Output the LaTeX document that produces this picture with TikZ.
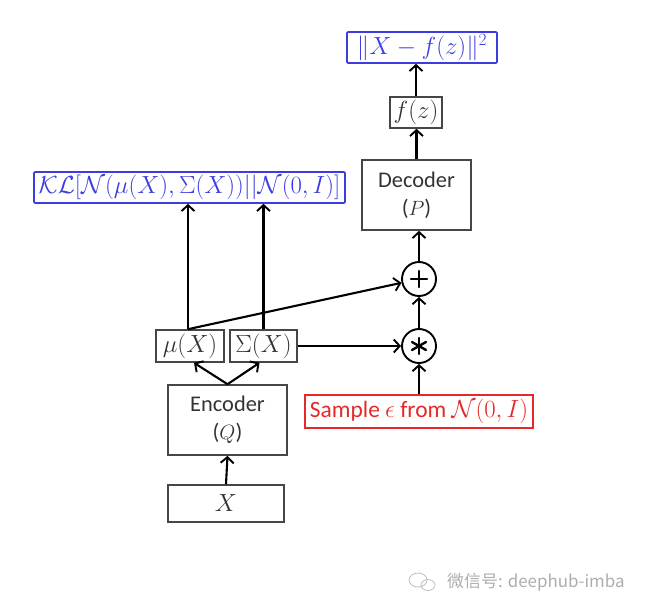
\documentclass[tikz,border=0pt]{standalone}
\usepackage{fontspec}
\setsansfont{Carlito}
\newfontfamily\cjk{Noto Sans CJK SC}
\usetikzlibrary{arrows.meta}
\definecolor{kblue}{RGB}{60,60,225}
\definecolor{kred}{RGB}{230,40,40}
\definecolor{kgray}{RGB}{70,70,70}
\begin{document}
\begin{tikzpicture}[x=1bp,y=-1bp,
  box/.style={draw=kgray, text=black!80, line width=1.6bp, inner sep=0pt, align=center},
  bbox/.style={draw=kblue, text=kblue, line width=1.6bp, inner sep=0pt, rounded corners=1bp},
  rbox/.style={draw=kred, text=kred, line width=1.6bp, inner sep=0pt},
  op/.style={draw=black, circle, line width=1.9bp, minimum size=34bp, inner sep=0pt},
  arr/.style={-{Straight Barb[length=6bp,width=13bp,line width=1.9bp]}, line width=2.1bp},
  mfont/.style={font=\fontsize{25}{28}\selectfont},
  sfont/.style={font=\sffamily\fontsize{22.5}{29}\selectfont},
  stroke/.style={line width=2.4bp, line cap=round}
]
\useasboundingbox (0,0) rectangle (651,600);

\node[bbox, mfont, minimum width=150bp, minimum height=31bp] (top) at (422,47.5) {$\|X-f(z)\|^2$};
\node[box, mfont, minimum width=52bp, minimum height=31bp] (fz) at (416,112.5) {$f(z)$};
\node[box, sfont, minimum width=109bp, minimum height=70bp] (dec) at (416.5,195) {Decoder\\[-1bp]($P$)};
\node[op] (plus) at (419,279) {};
\node[op] (star) at (419,346) {};
\draw[stroke] ([xshift=-8bp]plus.center) -- ([xshift=8bp]plus.center);
\draw[stroke] ([yshift=-8bp]plus.center) -- ([yshift=8bp]plus.center);
\draw[stroke] ([yshift=-8bp]star.center) -- ([yshift=8bp]star.center);
\draw[stroke] ([shift={(-7bp,-4bp)}]star.center) -- ([shift={(7bp,4bp)}]star.center);
\draw[stroke] ([shift={(-7bp,4bp)}]star.center) -- ([shift={(7bp,-4bp)}]star.center);
\node[rbox, minimum width=228bp, minimum height=33bp] (sample) at (419,411.5) {\sffamily\fontsize{23.5}{26}\selectfont Sample $\epsilon$ from $\mathcal{N}(0,I)$};
\node[bbox, mfont, minimum width=311bp, minimum height=31bp] (kl) at (189.5,187.5) {$\mathcal{KL}[\mathcal{N}(\mu(X),\Sigma(X))||\mathcal{N}(0,I)]$};
\node[box, mfont, minimum width=68bp, minimum height=32bp] (mu) at (190,346) {$\mu(X)$};
\node[box, mfont, minimum width=67bp, minimum height=32bp] (sig) at (263.5,346) {$\Sigma(X)$};
\node[box, sfont, minimum width=119bp, minimum height=70bp] (enc) at (227.5,420) {Encoder\\[-1bp]($Q$)};
\node[box, mfont, minimum width=116bp, minimum height=37bp] (x) at (226,503.5) {$X$};

\draw[arr] (x.north) -- (enc.south);
\draw[arr] (enc.north) -- ([xshift=4bp]mu.south);
\draw[arr] (enc.north) -- ([xshift=-4bp]sig.south);
\draw[arr] ([xshift=-2bp]mu.north) -- ([xshift=-2bp]mu.north |- kl.south);
\draw[arr] (sig.north) -- (sig.north |- kl.south);
\draw[arr] ([xshift=-2bp]mu.north) -- (plus);
\draw[arr] (sig.east) -- (star.west);
\draw[arr] (sample.north) -- (star.south);
\draw[arr] (star.north) -- (plus.south);
\draw[arr] (plus.north) -- (plus.north |- dec.south);
\draw[arr] (dec.north) -- (dec.north |- fz.south);
\draw[arr] (fz.north) -- (fz.north |- top.south);

% watermark
\node[text=black!32, font=\cjk\fontsize{17}{20}\selectfont, anchor=west, inner sep=0pt] (wm) at (447,582) {微信号: deephub-imba};
\draw[black!25, line width=0.8bp] (418,580) ellipse (9bp and 7bp);
\draw[black!25, line width=0.8bp] (428,585) ellipse (7bp and 5.5bp);
\end{tikzpicture}
\end{document}
